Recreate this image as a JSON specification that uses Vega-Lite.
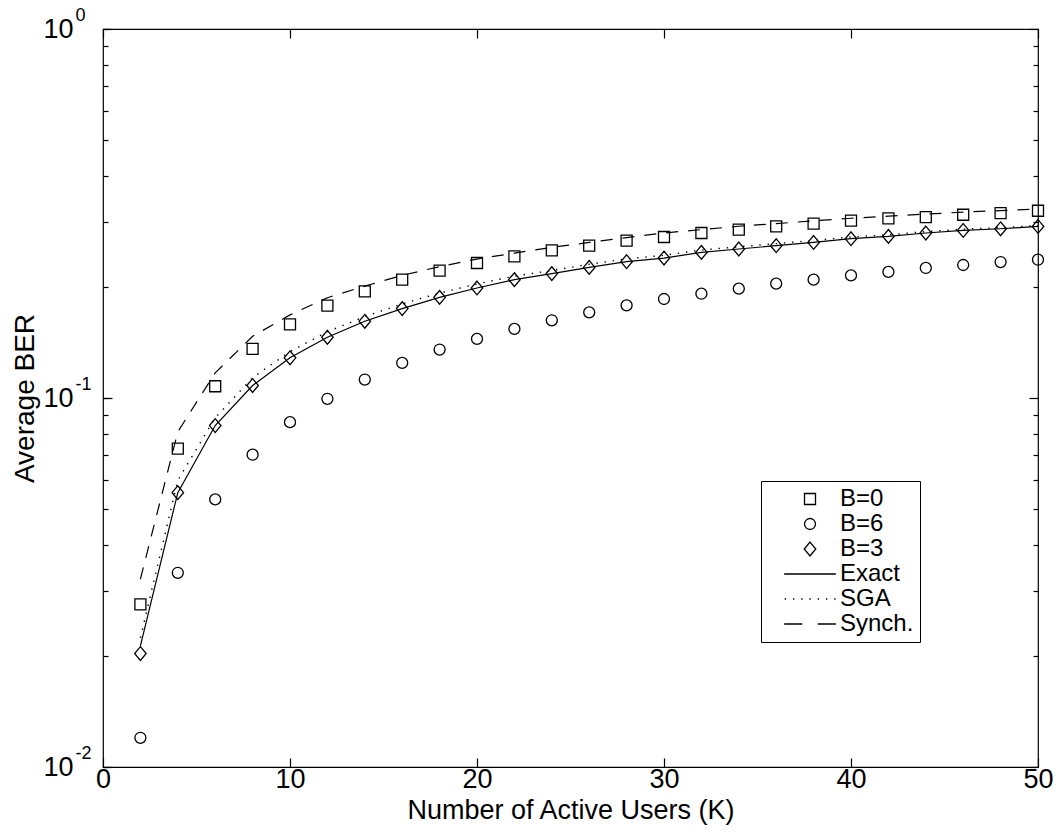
{
  "$schema": "https://vega.github.io/schema/vega-lite/v6.json",
  "width": 935,
  "height": 738,
  "autosize": {"type": "none"},
  "padding": {"left": 103, "top": 29, "right": 20, "bottom": 72},
  "background": "white",
  "config": {
    "view": {"stroke": "black", "strokeWidth": 1.2},
    "font": "Liberation Sans",
    "axis": {
      "domain": false,
      "grid": false,
      "tickColor": "black",
      "tickWidth": 1.2,
      "labelColor": "black",
      "titleColor": "black",
      "labelFont": "Liberation Sans",
      "titleFont": "Liberation Sans",
      "titleFontWeight": "normal",
      "labelOverlap": false,
      "labelFlush": false
    }
  },
  "datasets": {
    "pts": [
      {"K": 2, "series": "B=0", "BER": 0.0276}, {"K": 4, "series": "B=0", "BER": 0.0729}, {"K": 6, "series": "B=0", "BER": 0.1076}, {"K": 8, "series": "B=0", "BER": 0.1359}, {"K": 10, "series": "B=0", "BER": 0.1584},
      {"K": 12, "series": "B=0", "BER": 0.178}, {"K": 14, "series": "B=0", "BER": 0.1945}, {"K": 16, "series": "B=0", "BER": 0.2093}, {"K": 18, "series": "B=0", "BER": 0.2213}, {"K": 20, "series": "B=0", "BER": 0.2322},
      {"K": 22, "series": "B=0", "BER": 0.2419}, {"K": 24, "series": "B=0", "BER": 0.2512}, {"K": 26, "series": "B=0", "BER": 0.2587}, {"K": 28, "series": "B=0", "BER": 0.2669}, {"K": 30, "series": "B=0", "BER": 0.2731},
      {"K": 32, "series": "B=0", "BER": 0.28}, {"K": 34, "series": "B=0", "BER": 0.2858}, {"K": 36, "series": "B=0", "BER": 0.2917}, {"K": 38, "series": "B=0", "BER": 0.2967}, {"K": 40, "series": "B=0", "BER": 0.3023},
      {"K": 42, "series": "B=0", "BER": 0.3067}, {"K": 44, "series": "B=0", "BER": 0.3093}, {"K": 46, "series": "B=0", "BER": 0.3138}, {"K": 48, "series": "B=0", "BER": 0.3171}, {"K": 50, "series": "B=0", "BER": 0.3217},
      {"K": 2, "series": "B=6", "BER": 0.012}, {"K": 4, "series": "B=6", "BER": 0.0336}, {"K": 6, "series": "B=6", "BER": 0.0531}, {"K": 8, "series": "B=6", "BER": 0.0702}, {"K": 10, "series": "B=6", "BER": 0.086},
      {"K": 12, "series": "B=6", "BER": 0.0995}, {"K": 14, "series": "B=6", "BER": 0.1122}, {"K": 16, "series": "B=6", "BER": 0.1245}, {"K": 18, "series": "B=6", "BER": 0.1353}, {"K": 20, "series": "B=6", "BER": 0.1446},
      {"K": 22, "series": "B=6", "BER": 0.1539}, {"K": 24, "series": "B=6", "BER": 0.1624}, {"K": 26, "series": "B=6", "BER": 0.1707}, {"K": 28, "series": "B=6", "BER": 0.1783}, {"K": 30, "series": "B=6", "BER": 0.1855},
      {"K": 32, "series": "B=6", "BER": 0.1917}, {"K": 34, "series": "B=6", "BER": 0.1978}, {"K": 36, "series": "B=6", "BER": 0.2041}, {"K": 38, "series": "B=6", "BER": 0.2093}, {"K": 40, "series": "B=6", "BER": 0.2149},
      {"K": 42, "series": "B=6", "BER": 0.2196}, {"K": 44, "series": "B=6", "BER": 0.2251}, {"K": 46, "series": "B=6", "BER": 0.2293}, {"K": 48, "series": "B=6", "BER": 0.2336}, {"K": 50, "series": "B=6", "BER": 0.237},
      {"K": 2, "series": "B=3", "BER": 0.0203}, {"K": 4, "series": "B=3", "BER": 0.0554}, {"K": 6, "series": "B=3", "BER": 0.0842}, {"K": 8, "series": "B=3", "BER": 0.1081}, {"K": 10, "series": "B=3", "BER": 0.1285},
      {"K": 12, "series": "B=3", "BER": 0.1461}, {"K": 14, "series": "B=3", "BER": 0.1614}, {"K": 16, "series": "B=3", "BER": 0.1747}, {"K": 18, "series": "B=3", "BER": 0.1874}, {"K": 20, "series": "B=3", "BER": 0.1987},
      {"K": 22, "series": "B=3", "BER": 0.2093}, {"K": 24, "series": "B=3", "BER": 0.2173}, {"K": 26, "series": "B=3", "BER": 0.2259}, {"K": 28, "series": "B=3", "BER": 0.2341}, {"K": 30, "series": "B=3", "BER": 0.2395},
      {"K": 32, "series": "B=3", "BER": 0.2481}, {"K": 34, "series": "B=3", "BER": 0.2534}, {"K": 36, "series": "B=3", "BER": 0.2587}, {"K": 38, "series": "B=3", "BER": 0.264}, {"K": 40, "series": "B=3", "BER": 0.2702},
      {"K": 42, "series": "B=3", "BER": 0.2741}, {"K": 44, "series": "B=3", "BER": 0.28}, {"K": 46, "series": "B=3", "BER": 0.2845}, {"K": 48, "series": "B=3", "BER": 0.2875}, {"K": 50, "series": "B=3", "BER": 0.2917}
    ],
    "lines": [
      {"K": 2, "series": "Exact", "BER": 0.0213}, {"K": 4, "series": "Exact", "BER": 0.0554}, {"K": 6, "series": "Exact", "BER": 0.0842}, {"K": 8, "series": "Exact", "BER": 0.1081}, {"K": 10, "series": "Exact", "BER": 0.1285},
      {"K": 12, "series": "Exact", "BER": 0.1461}, {"K": 14, "series": "Exact", "BER": 0.1614}, {"K": 16, "series": "Exact", "BER": 0.1747}, {"K": 18, "series": "Exact", "BER": 0.1874}, {"K": 20, "series": "Exact", "BER": 0.1987},
      {"K": 22, "series": "Exact", "BER": 0.2093}, {"K": 24, "series": "Exact", "BER": 0.2173}, {"K": 26, "series": "Exact", "BER": 0.2259}, {"K": 28, "series": "Exact", "BER": 0.2341}, {"K": 30, "series": "Exact", "BER": 0.2395},
      {"K": 32, "series": "Exact", "BER": 0.2481}, {"K": 34, "series": "Exact", "BER": 0.2534}, {"K": 36, "series": "Exact", "BER": 0.2587}, {"K": 38, "series": "Exact", "BER": 0.264}, {"K": 40, "series": "Exact", "BER": 0.2702},
      {"K": 42, "series": "Exact", "BER": 0.2741}, {"K": 44, "series": "Exact", "BER": 0.28}, {"K": 46, "series": "Exact", "BER": 0.2845}, {"K": 48, "series": "Exact", "BER": 0.2875}, {"K": 50, "series": "Exact", "BER": 0.2917},
      {"K": 2, "series": "SGA", "BER": 0.0224}, {"K": 4, "series": "SGA", "BER": 0.0598}, {"K": 6, "series": "SGA", "BER": 0.0884}, {"K": 8, "series": "SGA", "BER": 0.1135}, {"K": 10, "series": "SGA", "BER": 0.1336},
      {"K": 12, "series": "SGA", "BER": 0.1512}, {"K": 14, "series": "SGA", "BER": 0.1662}, {"K": 16, "series": "SGA", "BER": 0.1799}, {"K": 18, "series": "SGA", "BER": 0.1925}, {"K": 20, "series": "SGA", "BER": 0.2037},
      {"K": 22, "series": "SGA", "BER": 0.2139}, {"K": 24, "series": "SGA", "BER": 0.2216}, {"K": 26, "series": "SGA", "BER": 0.2304}, {"K": 28, "series": "SGA", "BER": 0.2383}, {"K": 30, "series": "SGA", "BER": 0.2436},
      {"K": 32, "series": "SGA", "BER": 0.2518}, {"K": 34, "series": "SGA", "BER": 0.2569}, {"K": 36, "series": "SGA", "BER": 0.2621}, {"K": 38, "series": "SGA", "BER": 0.2672}, {"K": 40, "series": "SGA", "BER": 0.2732},
      {"K": 42, "series": "SGA", "BER": 0.2768}, {"K": 44, "series": "SGA", "BER": 0.2825}, {"K": 46, "series": "SGA", "BER": 0.2868}, {"K": 48, "series": "SGA", "BER": 0.2895}, {"K": 50, "series": "SGA", "BER": 0.2934},
      {"K": 2, "series": "Synch.", "BER": 0.0323}, {"K": 4, "series": "Synch.", "BER": 0.081}, {"K": 6, "series": "Synch.", "BER": 0.117}, {"K": 8, "series": "Synch.", "BER": 0.147}, {"K": 10, "series": "Synch.", "BER": 0.168},
      {"K": 12, "series": "Synch.", "BER": 0.187}, {"K": 14, "series": "Synch.", "BER": 0.201}, {"K": 16, "series": "Synch.", "BER": 0.215}, {"K": 18, "series": "Synch.", "BER": 0.227}, {"K": 20, "series": "Synch.", "BER": 0.238},
      {"K": 22, "series": "Synch.", "BER": 0.247}, {"K": 24, "series": "Synch.", "BER": 0.256}, {"K": 26, "series": "Synch.", "BER": 0.264}, {"K": 28, "series": "Synch.", "BER": 0.272}, {"K": 30, "series": "Synch.", "BER": 0.28},
      {"K": 32, "series": "Synch.", "BER": 0.286}, {"K": 34, "series": "Synch.", "BER": 0.292}, {"K": 36, "series": "Synch.", "BER": 0.297}, {"K": 38, "series": "Synch.", "BER": 0.302}, {"K": 40, "series": "Synch.", "BER": 0.307},
      {"K": 42, "series": "Synch.", "BER": 0.311}, {"K": 44, "series": "Synch.", "BER": 0.315}, {"K": 46, "series": "Synch.", "BER": 0.319}, {"K": 48, "series": "Synch.", "BER": 0.322}, {"K": 50, "series": "Synch.", "BER": 0.325}
    ]
  },
  "layer": [
    {
      "data": {"name": "lines"},
      "transform": [{"filter": "datum.series === 'Exact'"}],
      "mark": {"type": "line", "color": "black", "strokeWidth": 1.2},
      "encoding": {
        "x": {"field": "K", "type": "quantitative", "scale": {"domain": [0, 50], "nice": false, "zero": false},
          "axis": {"orient": "top", "values": [0, 10, 20, 30, 40, 50], "tickSize": -9, "labels": false, "title": null}},
        "y": {"field": "BER", "type": "quantitative", "scale": {"type": "log", "domain": [0.01, 1], "nice": false},
          "axis": {"orient": "right", "values": [0.01, 0.1, 1], "tickSize": -9, "labels": false, "title": null}}
      }
    },
    {
      "data": {"name": "lines"},
      "transform": [{"filter": "datum.series === 'SGA'"}],
      "mark": {"type": "line", "color": "black", "strokeWidth": 1.4, "strokeDash": [1.4, 6.8]},
      "encoding": {
        "x": {"field": "K", "type": "quantitative", "scale": {"domain": [0, 50], "nice": false, "zero": false}, "axis": null},
        "y": {"field": "BER", "type": "quantitative", "scale": {"type": "log", "domain": [0.01, 1], "nice": false},
          "axis": {"orient": "left", "values": [0.01, 0.02, 0.03, 0.04, 0.05, 0.06, 0.07, 0.08, 0.09, 0.1, 0.2, 0.3, 0.4, 0.5, 0.6, 0.7, 0.8, 0.9, 1],
            "tickSize": -5, "labelExpr": "datum.value == 1 ? '0' : datum.value == 0.1 ? '-1' : datum.value == 0.01 ? '-2' : ''",
            "labelAlign": "left", "labelPadding": 33, "labelOffset": -14, "labelFontSize": 18, "title": null}}
      }
    },
    {
      "data": {"name": "lines"},
      "transform": [{"filter": "datum.series === 'Synch.'"}],
      "mark": {"type": "line", "color": "black", "strokeWidth": 1.2, "strokeDash": [12, 10]},
      "encoding": {
        "x": {"field": "K", "type": "quantitative", "scale": {"domain": [0, 50], "nice": false, "zero": false}, "axis": null},
        "y": {"field": "BER", "type": "quantitative", "scale": {"type": "log", "domain": [0.01, 1], "nice": false},
          "axis": {"orient": "right", "values": [0.02, 0.03, 0.04, 0.05, 0.06, 0.07, 0.08, 0.09, 0.2, 0.3, 0.4, 0.5, 0.6, 0.7, 0.8, 0.9],
            "tickSize": -5, "labels": false, "title": null}}
      }
    },
    {
      "data": {"name": "pts"},
      "mark": {"type": "point", "filled": false, "color": "black", "strokeWidth": 1.3, "size": 121, "opacity": 1},
      "encoding": {
        "x": {"field": "K", "type": "quantitative", "scale": {"domain": [0, 50], "nice": false, "zero": false},
          "axis": {"orient": "bottom", "values": [0, 10, 20, 30, 40, 50], "tickSize": -9, "labelPadding": 8, "labelFontSize": 27,
            "title": "Number of Active Users (K)", "titleFontSize": 27, "titleBaseline": "alphabetic", "titleY": 51}},
        "y": {"field": "BER", "type": "quantitative", "scale": {"type": "log", "domain": [0.01, 1], "nice": false},
          "axis": {"orient": "left", "values": [0.01, 0.1, 1], "tickSize": -9, "labelExpr": "'10'", "labelPadding": 39, "labelFontSize": 27,
            "title": "Average BER", "titleFontSize": 28, "titleBaseline": "alphabetic", "titleX": -70}},
        "shape": {"field": "series", "type": "nominal",
          "scale": {"domain": ["B=0", "B=6", "B=3", "Exact", "SGA", "Synch."],
            "range": ["square", "circle", "M0,-1.25L1.05,0L0,1.25L-1.05,0Z", "M-4.7,0H4.7",
              "M-4.6,0H-4.35M-3.1,0H-2.85M-1.6,0H-1.35M-0.1,0H0.15M1.4,0H1.65M2.9,0H3.15M4.4,0H4.65",
              "M-4.7,0H-1.4M1.4,0H4.7"]},
          "legend": {"orient": "none", "legendX": 658, "legendY": 452, "title": null,
            "strokeColor": "black", "fillColor": "white", "padding": 6,
            "labelFont": "Liberation Sans", "labelFontSize": 24, "labelColor": "black",
            "labelExpr": "datum.label + '\u00a0\u00a0\u00a0\u00a0\u00a0'",
            "symbolSize": 121, "symbolStrokeWidth": 1.3, "symbolStrokeColor": "black", "symbolFillColor": "transparent",
            "symbolOffset": 31, "labelOffset": 18, "rowPadding": 1}}
      }
    }
  ],
  "resolve": {"axis": {"x": "independent", "y": "independent"}}
}
